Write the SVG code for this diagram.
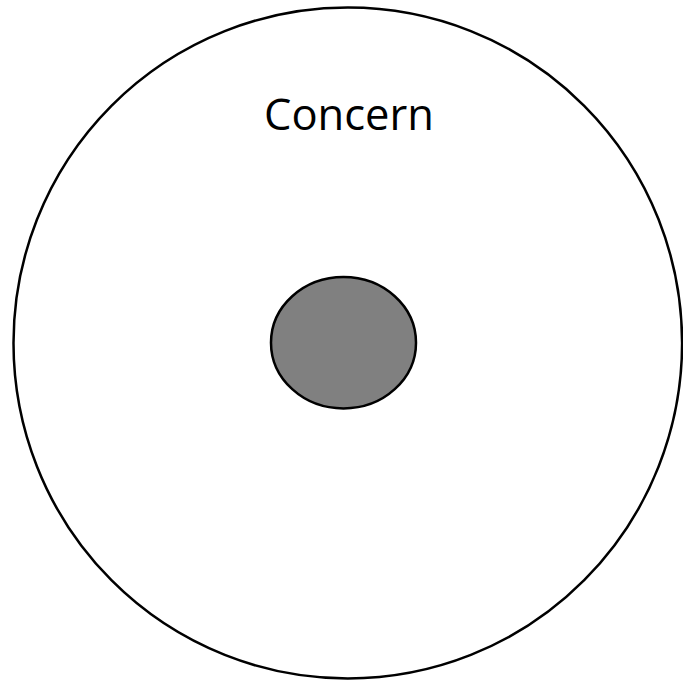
<svg xmlns="http://www.w3.org/2000/svg" width="683" height="684" viewBox="0 0 683 684">
<style>
.outer{fill:#ffffff;stroke:#000000;stroke-width:2.5}
.inner{fill:#808080;stroke:#000000;stroke-width:2.5}
.lbl{font-family:"Open Sans","Liberation Sans",sans-serif;font-size:43.5px;fill:#000000;text-anchor:middle}
</style>
<rect width="683" height="684" fill="#ffffff"/>
<g id="concern">
<ellipse class="outer" cx="347.8" cy="343" rx="334.3" ry="335.5"/>
<text class="lbl" x="349" y="129.5">Concern</text>
</g>
<g id="core">
<ellipse class="inner" cx="343.5" cy="342.7" rx="72.5" ry="65.7"/>
</g>
<g id="connectors"></g>
</svg>
